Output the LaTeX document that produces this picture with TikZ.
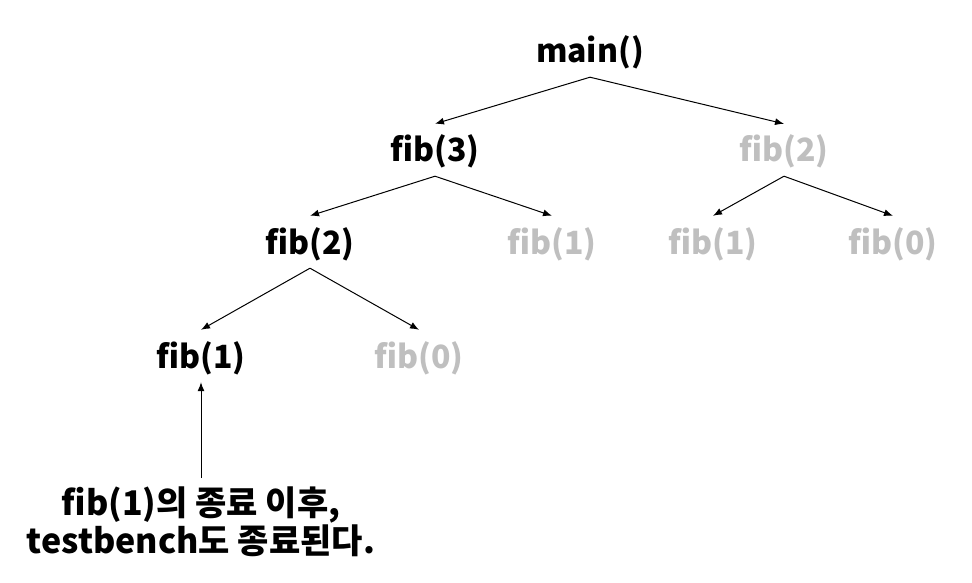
\documentclass[tikz,border=0pt]{standalone}
\usepackage{fontspec}
\setmainfont{Noto Sans CJK KR}
\usetikzlibrary{arrows.meta}
\definecolor{donegrey}{RGB}{191,191,191}
\begin{document}
\begin{tikzpicture}[x=1pt,y=-1pt,
  lbl/.style={inner sep=0pt, font=\bfseries\fontsize{32}{38}\selectfont, text height=38pt, text depth=14pt, anchor=base},
  done/.style={lbl, text=donegrey},
  notebox/.style={inner xsep=0pt, inner ysep=9pt, align=center, font=\bfseries\fontsize{34}{38}\selectfont, anchor=north},
  arr/.style={line width=1pt, -{Latex[length=9pt,width=7pt]}}]
\useasboundingbox (0,0) rectangle (972,583);
\node[lbl] (main) at (590,63) {main()};
\node[lbl] (fib3) at (435,162) {fib(3)};
\node[done] (fib2g) at (784,162) {fib(2)};
\node[lbl] (fib2) at (310,254) {fib(2)};
\node[done] (fib1g) at (552,254) {fib(1)};
\node[done] (fib1gg) at (713,254) {fib(1)};
\node[done] (fib0g) at (893,254) {fib(0)};
\node[lbl] (fib1) at (201,368) {fib(1)};
\node[done] (fib0) at (419,368) {fib(0)};
\node[notebox] (note) at (201,478) {fib(1)의 종료 이후,\\testbench도 종료된다.};
\draw[arr] (main.south) -- (fib3.north);
\draw[arr] (main.south) -- (fib2g.north);
\draw[arr] (fib3.south) -- (fib2.north);
\draw[arr] (fib3.south) -- (fib1g.north);
\draw[arr] (fib2g.south) -- (fib1gg.north);
\draw[arr] (fib2g.south) -- (fib0g.north);
\draw[arr] (fib2.south) -- (fib1.north);
\draw[arr] (fib2.south) -- (fib0.north);
\draw[arr] (note.north) -- (fib1.south);
\end{tikzpicture}
\end{document}
